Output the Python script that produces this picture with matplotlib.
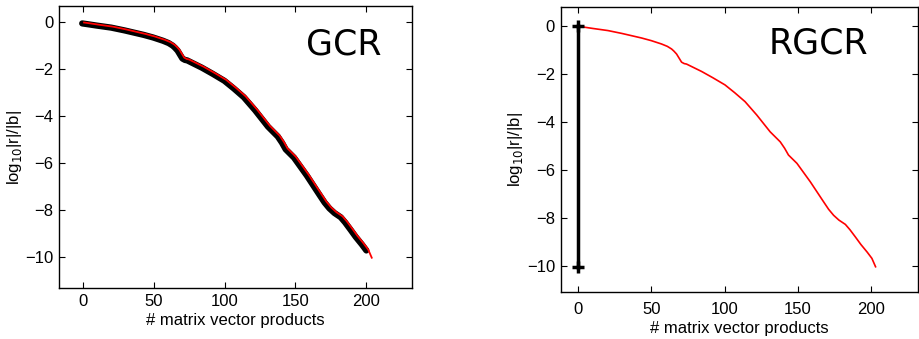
import numpy as np
import matplotlib.pyplot as plt

plt.rcParams['font.family'] = ['Liberation Sans', 'DejaVu Sans']

# residual history (x = # matvecs, y = log10 |r|/|b|)
mv = [0, 4.6, 10, 20.5, 30, 43.4, 50, 57, 61, 63.9, 65.5, 67.3, 69, 70.7, 72.5,
      74.1, 84.4, 92, 100.3, 107, 114, 122, 131.1, 138, 141, 143.6, 149.4,
      158.5, 167.6, 171, 174.4, 178, 182.4, 185.5, 189.3, 193, 197.3, 200.5, 203]
res = [0.0, -0.04, -0.09, -0.18, -0.3, -0.49, -0.6, -0.74, -0.84, -0.95, -1.04,
       -1.16, -1.33, -1.5, -1.56, -1.58, -1.89, -2.15, -2.45, -2.78, -3.15,
       -3.71, -4.41, -4.83, -5.1, -5.38, -5.73, -6.5, -7.34, -7.65, -7.9,
       -8.1, -8.28, -8.5, -8.81, -9.12, -9.44, -9.7, -10.05]

# RGCR restart segment (black vertical line with + markers)
rg_x = [0, 0]
rg_y = [0, -10.05]

fig = plt.figure(figsize=(9.19, 3.39), dpi=100)
ax1 = fig.add_axes([0.064, 0.150, 0.384, 0.832])
ax2 = fig.add_axes([0.610, 0.139, 0.389, 0.840])

# GCR: thick black line with thin red on top
ax1.plot(np.array(mv[:-1]) - 0.5, np.array(res[:-1]) - 0.04, color='black', lw=4.5,
         solid_capstyle='round', solid_joinstyle='round')
ax1.plot(np.array(mv) + 0.8, res, color='red', lw=1.3)
ax1.set_xlim(-17, 232)
ax1.set_ylim(-11.35, 0.7)
ax1.text(184, -0.95, 'GCR', fontsize=25, family='DejaVu Sans', ha='center', va='center')

# RGCR
ax2.plot(mv, res, color='red', lw=1.2)
ax2.plot(rg_x, rg_y, color='black', lw=2.5, marker='+', ms=9, mew=2.5)
ax2.set_xlim(-11.8, 232)
ax2.set_ylim(-11.1, 0.8)
ax2.text(164, -0.7, 'RGCR', fontsize=25, family='DejaVu Sans', ha='center', va='center')

for ax in (ax1, ax2):
    ax.set_xticks([0, 50, 100, 150, 200])
    ax.set_yticks([0, -2, -4, -6, -8, -10])
    ax.set_yticklabels(['0', '\u22122', '\u22124', '\u22126', '\u22128', '\u221210'])
    ax.tick_params(direction='in', top=True, right=True, labelsize=12,
                   length=4, width=0.8, pad=4)
    ax.set_ylabel(r'log$_{10}$|r|/|b|', fontsize=12, labelpad=1)
    for s in ax.spines.values():
        s.set_linewidth(1.0)

ax1.set_xlabel('# matrix vector products', fontsize=12, labelpad=3)
ax2.tick_params(axis='x', pad=7)
ax2.set_xlabel('# matrix vector products', fontsize=12, labelpad=3)

fig.savefig('out.png', dpi=100)
